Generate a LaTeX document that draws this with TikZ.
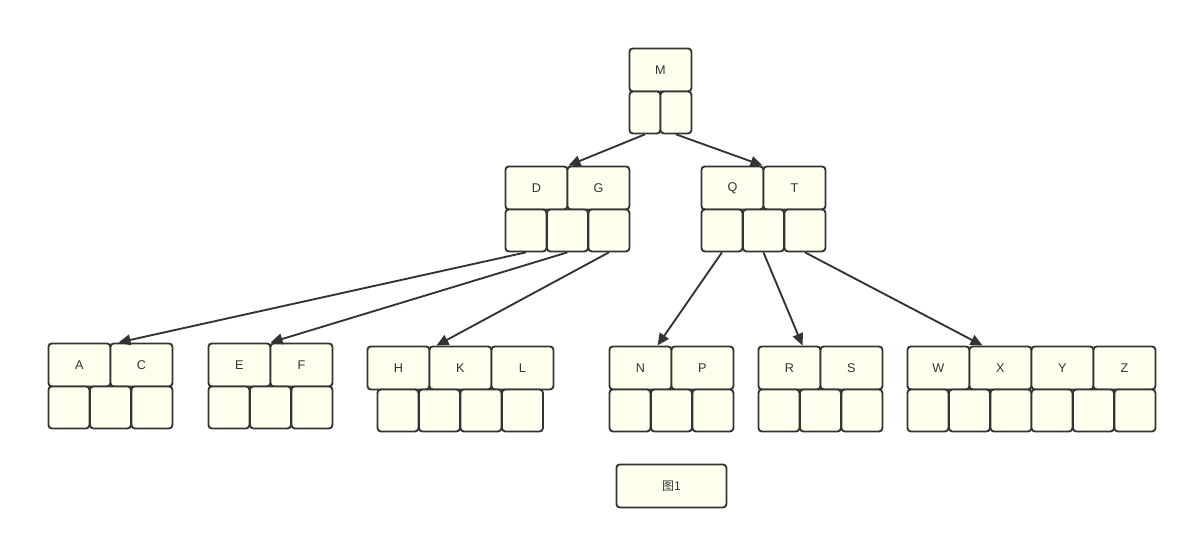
\documentclass[tikz,border=0pt]{standalone}
\usepackage{fontspec}
\setmainfont{Liberation Sans}
\newfontfamily\cjk{Noto Sans CJK SC}
\usetikzlibrary{arrows.meta,calc}
\definecolor{boxfill}{RGB}{255,255,238}
\definecolor{edge}{RGB}{51,51,51}
\tikzset{
  keybox/.style={draw=edge, fill=boxfill, line width=1.4pt, rounded corners=2.5pt,
    minimum width=46.5pt, minimum height=32.25pt, inner sep=0pt, anchor=north west,
    font=\fontsize{9.5pt}{11pt}\selectfont, text=edge},
  ptrbox/.style={draw=edge, fill=boxfill, line width=1.4pt, rounded corners=2.5pt,
    minimum width=30.75pt, minimum height=31.5pt, inner sep=0pt, anchor=north west},
  arr/.style={draw=edge, line width=1.4pt, -{Triangle[length=9pt,width=8pt]}}
}
\begin{document}
\begin{tikzpicture}[x=0.75pt,y=-0.75pt]
\useasboundingbox (0,0) rectangle (1187,539);
% M
\node[keybox] (m) at (628.5,47.5) {M};
\node[ptrbox, minimum width=23.25pt] (m1) at (628.5,90.5) {};
\node[ptrbox, minimum width=23.25pt] (m2) at (659.5,90.5) {};
% DG
\node[keybox] (d) at (504.5,165.5) {D};
\node[keybox] (g) at (566.5,165.5) {G};
\node[ptrbox] (dg1) at (504.5,208.5) {};
\node[ptrbox] (dg2) at (546,208.5) {};
\node[ptrbox] (dg3) at (587.5,208.5) {};
% QT
\node[keybox] (q) at (700.5,165.5) {Q};
\node[keybox] (t) at (762.5,165.5) {T};
\node[ptrbox] (qt1) at (700.5,208.5) {};
\node[ptrbox] (qt2) at (742,208.5) {};
\node[ptrbox] (qt3) at (783.5,208.5) {};
% AC
\node[keybox] (a) at (47.5,342.5) {A};
\node[keybox] (c) at (109.5,342.5) {C};
\node[ptrbox] (ac1) at (47.5,385.5) {};
\node[ptrbox] (ac2) at (89,385.5) {};
\node[ptrbox] (ac3) at (130.5,385.5) {};
% EF
\node[keybox] (e) at (207.5,342.5) {E};
\node[keybox] (f) at (269.5,342.5) {F};
\node[ptrbox] (ef1) at (207.5,385.5) {};
\node[ptrbox] (ef2) at (249,385.5) {};
\node[ptrbox] (ef3) at (290.5,385.5) {};
% HKL
\node[keybox] (h) at (366.5,345.5) {H};
\node[keybox] (k) at (428.5,345.5) {K};
\node[keybox] (l) at (490.5,345.5) {L};
\node[ptrbox] (hkl1) at (376.5,388.5) {};
\node[ptrbox] (hkl2) at (418,388.5) {};
\node[ptrbox] (hkl3) at (459.5,388.5) {};
\node[ptrbox] (hkl4) at (501,388.5) {};
% NP
\node[keybox] (n) at (608.5,345.5) {N};
\node[keybox] (p) at (670.5,345.5) {P};
\node[ptrbox] (np1) at (608.5,388.5) {};
\node[ptrbox] (np2) at (650,388.5) {};
\node[ptrbox] (np3) at (691.5,388.5) {};
% RS
\node[keybox] (r) at (757.5,345.5) {R};
\node[keybox] (s) at (819.5,345.5) {S};
\node[ptrbox] (rs1) at (757.5,388.5) {};
\node[ptrbox] (rs2) at (799,388.5) {};
\node[ptrbox] (rs3) at (840.5,388.5) {};
% WXYZ
\node[keybox] (w) at (906.5,345.5) {W};
\node[keybox] (x) at (968.5,345.5) {X};
\node[keybox] (y) at (1030.5,345.5) {Y};
\node[keybox] (z) at (1092.5,345.5) {Z};
\node[ptrbox] (w1) at (906.5,388.5) {};
\node[ptrbox] (w2) at (948,388.5) {};
\node[ptrbox] (w3) at (989.5,388.5) {};
\node[ptrbox] (w4) at (1030.5,388.5) {};
\node[ptrbox] (w5) at (1072,388.5) {};
\node[ptrbox] (w6) at (1113.5,388.5) {};
% caption
\node[keybox, minimum width=82.5pt, font=\cjk\fontsize{9pt}{11pt}\selectfont] (cap) at (615.5,463.5) {图1};
% arrows
\draw[arr] (m1.south) -- ($(g.north west)+(2,0)$);
\draw[arr] (m2.south) -- (t.north west);
\draw[arr] (dg1.south) -- ($(c.north west)+(9,0)$);
\draw[arr] (dg2.south) -- ($(f.north west)+(1,0)$);
\draw[arr] (dg3.south) -- ($(k.north west)+(8,0)$);
\draw[arr] (qt1.south) -- ($(p.north west)+(-13,0)$);
\draw[arr] (qt2.south) -- ($(s.north west)+(-17,0)$);
\draw[arr] (qt3.south) -- ($(x.north west)+(14,0)$);
\end{tikzpicture}
\end{document}
